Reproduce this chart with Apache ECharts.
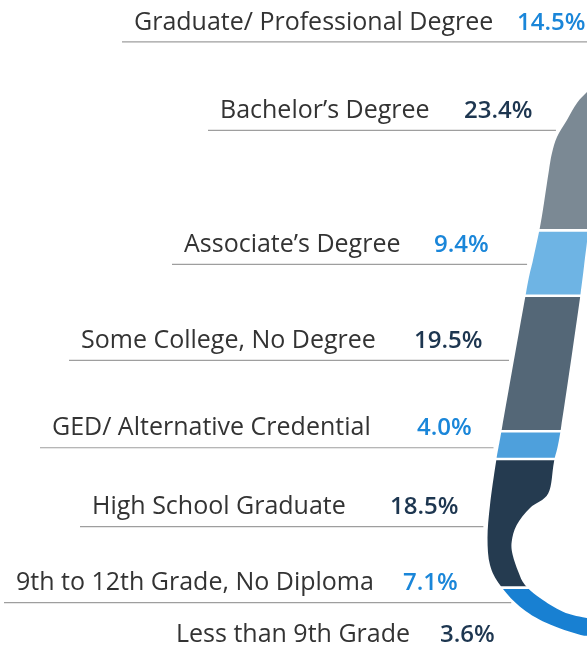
<!DOCTYPE html>
<html>
<head>
<meta charset="utf-8">
<script src="https://cdn.jsdelivr.net/npm/echarts@6/dist/echarts.min.js"></script>
<style>
html, body { margin: 0; padding: 0; background: #fff; }
#main { width: 587px; height: 650px; }
</style>
</head>
<body>
<div id="main"></div>
<script>
// education attainment shares, top of the ribbon to the bottom
var categories = ['Graduate/ Professional Degree', 'Bachelor\u2019s Degree', 'Associate\u2019s Degree',
    'Some College, No Degree', 'GED/ Alternative Credential', 'High School Graduate',
    '9th to 12th Grade, No Diploma', 'Less than 9th Grade'];
var shares = [14.5, 23.4, 9.4, 19.5, 4.0, 18.5, 7.1, 3.6];

var ribbonColors = ['#3d5a73', '#7b8994', '#6eb4e4', '#546777', '#4ea0dc', '#253b50', '#1880d2', '#1c2e40'];
var valueColors = ['#1a86d9', '#1d3650'];

// label placement (layout only)
var nameX = [134, 220, 184, 81, 52, 92, 16, 176];
var valueX = [517, 464, 434, 414, 417, 390, 403, 440];
var labelNudge = [24.5, -18.8, 1.3, -3.1, 2.6, 3.2, -9.7, 5.1];

// ribbon outline: outer edge top -> bottom, inner edge bottom -> top
var outerEdge = [[640, 45], [600, 80], [587, 92], [577, 103], [567, 120], [557, 137], [552, 153],
    [549, 170], [544, 203], [540, 227], [533, 260], [526, 293], [502, 428], [496, 462], [490, 505],
    [487.5, 538], [490, 565], [500, 585], [520, 606.7], [546.7, 623], [586.7, 636.7], [630, 645], [680, 648]];
var innerEdge = [[680, 628], [630, 626], [586.7, 618], [563, 611.7], [540, 598], [525, 585], [518.3, 571.7],
    [512.7, 555], [511.7, 541.7], [516.7, 525], [530, 508], [548.3, 493.3], [554, 461.7], [561, 428],
    [580, 298], [586, 250], [592, 210], [612, 140], [660, 30]];

function smoothPath(pts, start) {
    var d = (start ? 'M' : 'L') + pts[0][0] + ' ' + pts[0][1];
    for (var i = 0; i < pts.length - 1; i++) {
        var p0 = pts[i - 1] || pts[i], p1 = pts[i], p2 = pts[i + 1], p3 = pts[i + 2] || p2;
        d += 'C' + (p1[0] + (p2[0] - p0[0]) / 6) + ' ' + (p1[1] + (p2[1] - p0[1]) / 6) + ' '
            + (p2[0] - (p3[0] - p1[0]) / 6) + ' ' + (p2[1] - (p3[1] - p1[1]) / 6) + ' '
            + p2[0] + ' ' + p2[1];
    }
    return d;
}
var ribbonPath = smoothPath(outerEdge, true) + smoothPath(innerEdge, false) + 'Z';

function edgeX(y) {
    for (var i = 0; i < outerEdge.length - 1; i++) {
        var a = outerEdge[i], b = outerEdge[i + 1];
        if ((y - a[1]) * (y - b[1]) <= 0 && a[1] !== b[1]) {
            return a[0] + (b[0] - a[0]) * (y - a[1]) / (b[1] - a[1]);
        }
    }
    return null;
}

var cum = 0;
var data = shares.map(function (v, i) {
    var d = [0.5, cum, cum + v, i];
    cum += v;
    return d;
});

var myChart = echarts.init(document.getElementById('main'));
var option = {
    animation: false,
    grid: { left: 0, right: 0, top: 0, bottom: 0 },
    xAxis: { type: 'value', min: 0, max: 1, show: false },
    // 6.95px per percentage point, 0% sits 33px above the top edge
    yAxis: { type: 'value', min: 4.748, max: 98.273, inverse: true, show: false },
    series: [{
        type: 'custom',
        clip: false,
        silent: true,
        encode: { x: 0, y: [1, 2] },
        data: data,
        renderItem: function (params, api) {
            var i = api.value(3);
            var top = api.coord([0, api.value(1)])[1];
            var bot = api.coord([0, api.value(2)])[1];
            var w = api.getWidth();
            var lineY = (top + bot) / 2 + labelNudge[i];
            var ex = edgeX(lineY);
            var x2 = ex === null ? w : Math.min(ex - 5, w);
            var gap = 1.3;
            var base = lineY - 10;
            return {
                type: 'group',
                children: [{
                    type: 'path',
                    shape: { pathData: ribbonPath },
                    style: { fill: ribbonColors[i] },
                    clipPath: {
                        type: 'rect',
                        shape: { x: 0, y: top + gap, width: w + 200, height: bot - top - 2 * gap }
                    }
                }, {
                    type: 'line',
                    shape: { x1: nameX[i] - 12, y1: lineY, x2: x2, y2: lineY },
                    style: { stroke: '#9e9e9e', lineWidth: 1.2 }
                }, {
                    type: 'text',
                    x: nameX[i],
                    y: base - 9.5,
                    style: {
                        text: categories[i],
                        fill: '#333333',
                        fontSize: 25,
                        fontFamily: '"Open Sans"',
                        verticalAlign: 'middle'
                    }
                }, {
                    type: 'text',
                    x: valueX[i],
                    y: base - 9.2,
                    style: {
                        text: shares[i].toFixed(1) + '%',
                        fill: valueColors[i % 2],
                        fontSize: 24,
                        fontWeight: 600,
                        fontFamily: '"Open Sans"',
                        verticalAlign: 'middle'
                    }
                }]
            };
        }
    }]
};
myChart.setOption(option);
</script>
</body>
</html>
